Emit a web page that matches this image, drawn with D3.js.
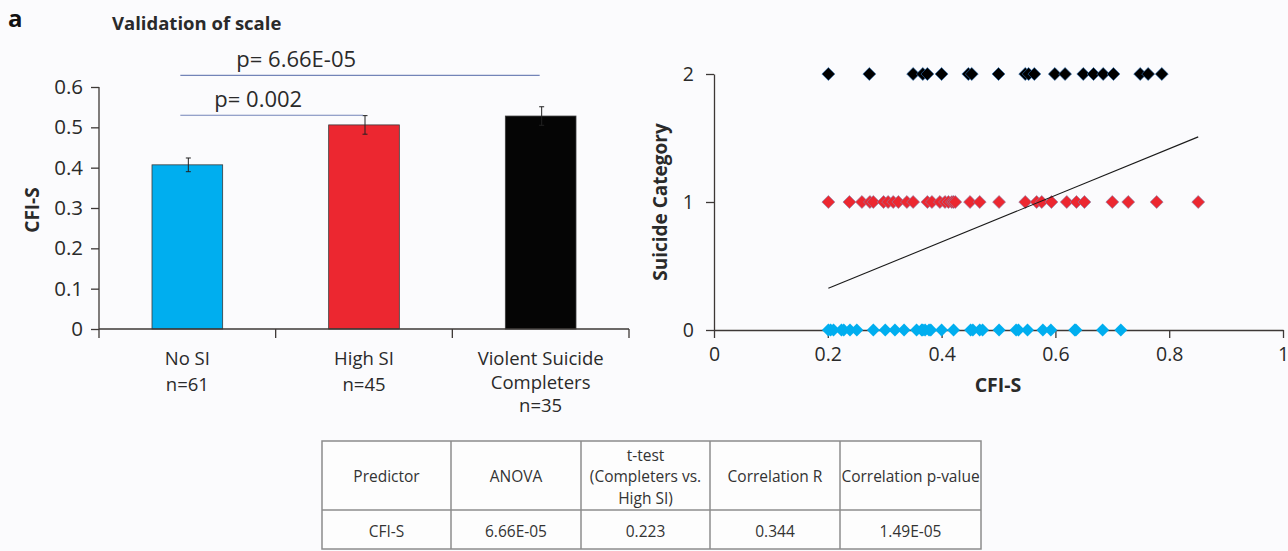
<!DOCTYPE html>
<html>
<head>
<meta charset="utf-8">
<script src="https://cdn.jsdelivr.net/npm/d3@7"></script>
<style>
    body { margin: 0; background: #fbfbfd; }
    svg { display: block; font-family: "Open Sans", sans-serif; }
</style>
</head>
<body>
<svg id="chart"></svg>
<script>
const WIDTH = 1288,
      HEIGHT = 551;

// bar chart data
const GROUPS = ["No SI", "High SI", "Violent Suicide Completers"];
const GROUP_LABELS = [["No SI", "n=61"], ["High SI", "n=45"], ["Violent Suicide", "Completers", "n=35"]];
const MEANS = [0.407, 0.506, 0.528];
const ERRORS = [0.017, 0.023, 0.023];
const BAR_COLOURS = ["#00aeef", "#ec2730", "#050505"];
const BAR_TICKS = [0, 0.1, 0.2, 0.3, 0.4, 0.5, 0.6];
const SIG_FROM = ["No SI", "No SI"];
const SIG_TO = ["Violent Suicide Completers", "High SI"];
const SIG_LEVEL = [0.629, 0.53];
const SIG_TEXT = ["p= 6.66E-05", "p= 0.002"];

// scatter data (CFI-S per suicide category)
const CFI_NO_SI = [0.201, 0.205, 0.210, 0.224, 0.228, 0.239, 0.251, 0.280, 0.301, 0.318, 0.334, 0.356, 0.365,
    0.367, 0.371, 0.378, 0.381, 0.400, 0.421, 0.451, 0.455, 0.467, 0.472, 0.501, 0.531, 0.535, 0.551, 0.578,
    0.592, 0.634, 0.636, 0.683, 0.715];
const CFI_HIGH_SI = [0.201, 0.238, 0.260, 0.274, 0.280, 0.298, 0.306, 0.315, 0.324, 0.339, 0.350, 0.375, 0.383,
    0.397, 0.406, 0.412, 0.418, 0.421, 0.424, 0.450, 0.467, 0.501, 0.547, 0.567, 0.576, 0.593, 0.620, 0.637,
    0.651, 0.700, 0.728, 0.778, 0.851];
const CFI_COMPLETERS = [0.201, 0.273, 0.350, 0.367, 0.375, 0.400, 0.447, 0.453, 0.500, 0.547, 0.553, 0.563,
    0.599, 0.617, 0.649, 0.667, 0.684, 0.702, 0.749, 0.763, 0.787];
const CATEGORY_VALUES = [0, 1, 2];
const POINT_COLOURS = ["#00aeef", "#ec2730", "#000000"];
const POINT_STROKES = ["none", "#8a7fa8", "#2d6fb5"];
const FIT_SLOPE = 1.82,
      FIT_INTERCEPT = -0.04;
const X_TICKS = [0, 0.2, 0.4, 0.6, 0.8, 1];
const Y_TICKS = [0, 1, 2];

// table data
const TABLE_HEADERS = [["Predictor"], ["ANOVA"], ["t-test", "(Completers vs.", "High SI)"], ["Correlation R"], ["Correlation p-value"]];
const TABLE_ROW = ["CFI-S", "6.66E-05", "0.223", "0.344", "1.49E-05"];

const AXIS_COLOUR = "#3d3836";
const TEXT_COLOUR = "#2a2a2a";

function drawBarChart(container) {
    let x = d3.scaleBand()
        .domain(GROUPS)
        .range([99, 629])
        .paddingInner(0.6)
        .paddingOuter(0.3);
    let y = d3.scaleLinear()
        .domain([0, 0.6])
        .range([329, 87]);

    container.append("text")
        .attr("x", 8)
        .attr("y", 27)
        .attr("font-size", 24)
        .attr("font-weight", "bold")
        .attr("fill", "#111")
        .text("a");

    container.append("text")
        .attr("x", 112)
        .attr("y", 30)
        .attr("font-size", 18.5)
        .attr("font-weight", "bold")
        .attr("fill", TEXT_COLOUR)
        .text("Validation of scale");

    // y axis
    let yAxis = container.append("g")
        .attr("transform", "translate(99,0)")
        .call(d3.axisLeft(y).tickValues(BAR_TICKS).tickSize(8).tickPadding(8)
            .tickFormat(d => d === 0 ? "0" : d.toFixed(1)));
    yAxis.selectAll("path, line").attr("stroke", AXIS_COLOUR).attr("stroke-width", 1.3);
    yAxis.select(".domain").attr("d", "M0," + y(0.6) + "V" + y(0));
    yAxis.selectAll("text").attr("font-size", 20.5).attr("fill", TEXT_COLOUR).attr("font-family", "Open Sans");

    // bars
    container.selectAll(".bar")
        .data(GROUPS)
        .enter()
        .append("rect")
        .attr("class", "bar")
        .attr("x", d => x(d))
        .attr("y", (d, i) => y(MEANS[i]))
        .attr("width", x.bandwidth())
        .attr("height", (d, i) => y(0) - y(MEANS[i]))
        .attr("fill", (d, i) => BAR_COLOURS[i])
        .attr("stroke", "#3a3a3a")
        .attr("stroke-width", 0.8);

    // error bars
    GROUPS.forEach((g, i) => {
        let cx = x(g) + x.bandwidth() / 2 + 1;
        container.append("path")
            .attr("d", "M" + cx + "," + y(MEANS[i] + ERRORS[i]) + "V" + y(MEANS[i] - ERRORS[i])
                + "M" + (cx - 2.5) + "," + y(MEANS[i] + ERRORS[i]) + "h5"
                + "M" + (cx - 2.5) + "," + y(MEANS[i] - ERRORS[i]) + "h5")
            .attr("stroke", "#222")
            .attr("stroke-width", 1)
            .attr("fill", "none");
    });

    // x axis with boundary ticks
    let left = x.range()[0];
    container.append("line")
        .attr("x1", left).attr("x2", x.range()[1])
        .attr("y1", y(0)).attr("y2", y(0))
        .attr("stroke", AXIS_COLOUR).attr("stroke-width", 1.3);
    d3.range(GROUPS.length + 1).forEach(i =>
        container.append("line")
            .attr("x1", left + i * x.step()).attr("x2", left + i * x.step())
            .attr("y1", y(0)).attr("y2", y(0) + 9)
            .attr("stroke", AXIS_COLOUR).attr("stroke-width", 1.3)
    );

    GROUPS.forEach((g, i) => {
        let label = container.append("text")
            .attr("x", x(g) + x.bandwidth() / 2)
            .attr("y", 365)
            .attr("text-anchor", "middle")
            .attr("font-size", 18.5)
            .attr("fill", TEXT_COLOUR);
        GROUP_LABELS[i].forEach((line, j) =>
            label.append("tspan")
                .attr("x", x(g) + x.bandwidth() / 2)
                .attr("dy", j === 0 ? 0 : (GROUP_LABELS[i].length > 2 ? 23.5 : 26))
                .text(line)
        );
    });

    container.append("text")
        .attr("transform", "translate(39,210) rotate(-90)")
        .attr("text-anchor", "middle")
        .attr("font-size", 19)
        .attr("font-weight", "bold")
        .attr("fill", TEXT_COLOUR)
        .text("CFI-S");

    // significance lines, labels sit left of the line centre
    let textShift = [56, 34];
    SIG_TEXT.forEach((t, i) => {
        let x1 = x(SIG_FROM[i]) + x.bandwidth() / 2 - 7;
        let x2 = x(SIG_TO[i]) + x.bandwidth() / 2 - 1;
        container.append("line")
            .attr("x1", x1).attr("x2", x2)
            .attr("y1", y(SIG_LEVEL[i])).attr("y2", y(SIG_LEVEL[i]))
            .attr("stroke", "#7384b8")
            .attr("stroke-width", 1.2);
        container.append("text")
            .attr("x", x1 + textShift[i])
            .attr("y", y(SIG_LEVEL[i]) - 8)
            .attr("font-size", 22)
            .attr("fill", TEXT_COLOUR)
            .text(t);
    });
}

function drawScatter(container) {
    let x = d3.scaleLinear().domain([0, 1]).range([714, 1283]);
    let y = d3.scaleLinear().domain([0, 2]).range([330, 74]);

    let xAxis = container.append("g")
        .attr("transform", "translate(0," + y(0) + ")")
        .call(d3.axisBottom(x).tickValues(X_TICKS).tickSize(8).tickPadding(9).tickSizeOuter(0)
            .tickFormat(d3.format("")));
    xAxis.selectAll("path, line").attr("stroke", AXIS_COLOUR).attr("stroke-width", 1.3);
    xAxis.selectAll("text").attr("font-size", 19.5).attr("fill", TEXT_COLOUR).attr("font-family", "Open Sans");

    let yAxis = container.append("g")
        .attr("transform", "translate(" + x(0) + ",0)")
        .call(d3.axisLeft(y).tickValues(Y_TICKS).tickSize(8).tickPadding(12).tickSizeOuter(0)
            .tickFormat(d3.format("d")));
    yAxis.selectAll("path, line").attr("stroke", AXIS_COLOUR).attr("stroke-width", 1.3);
    yAxis.selectAll("text").attr("font-size", 19.5).attr("fill", TEXT_COLOUR).attr("font-family", "Open Sans");

    let diamond = d3.symbol().type(d3.symbolSquare).size(84);
    [CFI_NO_SI, CFI_HIGH_SI, CFI_COMPLETERS].forEach((values, k) => {
        container.append("g")
            .selectAll("path")
            .data(values)
            .enter()
            .append("path")
            .attr("d", diamond)
            .attr("transform", d => "translate(" + x(d) + "," + y(CATEGORY_VALUES[k]) + ") rotate(45)")
            .attr("fill", POINT_COLOURS[k])
            .attr("stroke", POINT_STROKES[k])
            .attr("stroke-width", 0.6);
    });

    // regression line over the range of the data
    let all = CFI_NO_SI.concat(CFI_HIGH_SI, CFI_COMPLETERS);
    let ext = d3.extent(all);
    container.append("path")
        .datum(ext)
        .attr("d", d3.line().x(d => x(d)).y(d => y(FIT_INTERCEPT + FIT_SLOPE * d)))
        .attr("stroke", "#1a1a1a")
        .attr("stroke-width", 1.1)
        .attr("fill", "none");

    container.append("text")
        .attr("transform", "translate(667,202) rotate(-90)")
        .attr("text-anchor", "middle")
        .attr("font-size", 19)
        .attr("font-weight", "bold")
        .attr("fill", TEXT_COLOUR)
        .text("Suicide Category");

    container.append("text")
        .attr("x", 998)
        .attr("y", 392)
        .attr("text-anchor", "middle")
        .attr("font-size", 19.5)
        .attr("font-weight", "bold")
        .attr("fill", TEXT_COLOUR)
        .text("CFI-S");
}

function drawTable(container) {
    let colEdges = [322, 451, 581, 710, 840, 981];
    let top = 441, mid = 510, bottom = 549;
    let g = container.append("g");

    g.append("rect")
        .attr("x", colEdges[0]).attr("y", top)
        .attr("width", colEdges[5] - colEdges[0]).attr("height", bottom - top)
        .attr("fill", "#fdfdfd")
        .attr("stroke", "#8c8c8c")
        .attr("stroke-width", 1.5);
    g.append("line")
        .attr("x1", colEdges[0]).attr("x2", colEdges[5])
        .attr("y1", mid).attr("y2", mid)
        .attr("stroke", "#8c8c8c").attr("stroke-width", 1.5);
    colEdges.slice(1, -1).forEach(cx =>
        g.append("line")
            .attr("x1", cx).attr("x2", cx)
            .attr("y1", top).attr("y2", bottom)
            .attr("stroke", "#8c8c8c").attr("stroke-width", 1.5)
    );

    TABLE_HEADERS.forEach((lines, i) => {
        let cx = (colEdges[i] + colEdges[i + 1]) / 2;
        let t = g.append("text")
            .attr("text-anchor", "middle")
            .attr("font-size", 15.5)
            .attr("fill", "#333");
        lines.forEach((line, j) =>
            t.append("tspan")
                .attr("x", cx)
                .attr("y", 482 + (j - (lines.length - 1) / 2) * 21.5)
                .text(line)
        );
    });

    TABLE_ROW.forEach((v, i) =>
        g.append("text")
            .attr("x", (colEdges[i] + colEdges[i + 1]) / 2)
            .attr("y", 537)
            .attr("text-anchor", "middle")
            .attr("font-size", 15.5)
            .attr("fill", "#333")
            .text(v)
    );
}

let svg = d3.select("#chart")
    .attr("width", WIDTH)
    .attr("height", HEIGHT);

drawBarChart(svg);
drawScatter(svg);
drawTable(svg);
</script>
</body>
</html>
